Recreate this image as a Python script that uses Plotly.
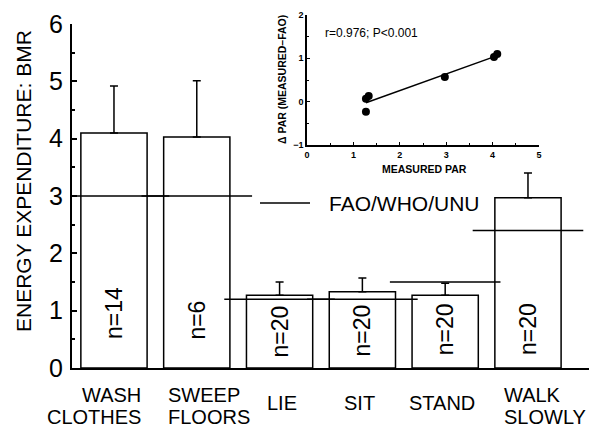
import numpy as np
import plotly.graph_objects as go

# ---- data ----
activities = ["WASH<br>CLOTHES", "SWEEP<br>FLOORS", "LIE", "SIT", "STAND", "WALK<br>SLOWLY"]
measured = [4.10, 4.03, 1.27, 1.33, 1.27, 2.97]
sd_upper = [0.82, 0.98, 0.23, 0.24, 0.21, 0.43]
fao = [3.0, 3.0, 1.20, 1.20, 1.50, 2.40]
n_labels = ["n=14", "n=6", "n=20", "n=20", "n=20", "n=20"]
y_ticks = [0, 1, 2, 3, 4, 5, 6]
inset_x_ticks = [0, 1, 2, 3, 4, 5]
inset_y_ticks = [-1, 0, 1, 2]
stat_text = "r=0.976; P&lt;0.001"
legend_text = "FAO/WHO/UNU"

# layout-only constants
n_label_y = [0.96, 0.84, 0.63, 0.66, 0.68, 0.68]
label_anchor = [("right", 29), ("left", -31), ("center", 2), ("center", -3), ("center", -3), ("left", -26)]

W, H = 589, 428
FONT = "Liberation Sans"
idx = list(range(len(activities)))

fig = go.Figure()

fig.add_trace(go.Bar(
    x=idx, y=measured, width=0.8,
    marker=dict(color="white", line=dict(color="black", width=1.5)),
    error_y=dict(type="data", array=sd_upper, arrayminus=[0] * len(measured),
                 symmetric=False, color="black", thickness=1.5, width=4),
    showlegend=False, xaxis="x", yaxis="y",
))
fig.add_trace(go.Scatter(
    x=idx, y=fao, mode="markers", name=legend_text,
    marker=dict(symbol="line-ew", size=79, color="black",
                line=dict(color="black", width=1.5)),
    showlegend=False, xaxis="x", yaxis="y",
))

# inset
mx = np.array(measured)
delta = mx - np.array(fao)
slope, icpt = np.polyfit(mx, delta, 1)
lx = np.array([mx.min(), mx.max()])
fig.add_trace(go.Scatter(
    x=lx, y=slope * lx + icpt, mode="lines",
    line=dict(color="black", width=1.5), showlegend=False, xaxis="x2", yaxis="y2",
))
fig.add_trace(go.Scatter(
    x=mx, y=delta, mode="markers",
    marker=dict(color="black", size=8), showlegend=False, xaxis="x2", yaxis="y2",
))

annotations = []
for i, lab in enumerate(activities):
    lines = lab.split("<br>")
    ys = [403] if len(lines) == 1 else [395, 417]
    anc, sh = label_anchor[i]
    for ln, yp in zip(lines, ys):
        annotations.append(dict(x=i, xref="x", y=1 - yp / H, yref="paper",
                                text=ln, showarrow=False, yanchor="middle",
                                xanchor=anc, xshift=sh,
                                font=dict(family=FONT, size=20, color="black")))
for i, t in enumerate(n_labels):
    annotations.append(dict(x=i, xref="x", y=n_label_y[i], yref="y", text=t,
                            textangle=-90, showarrow=False, xanchor="center", yanchor="middle",
                            font=dict(family=FONT, size=23, color="black")))
annotations.append(dict(x=23 / W, y=1 - 181 / H, xref="paper", yref="paper",
                        xanchor="center", yanchor="middle",
                        text="ENERGY EXPENDITURE: BMR", textangle=-90, showarrow=False,
                        font=dict(family=FONT, size=21, color="black")))
annotations.append(dict(x=323 / W, y=1 - 33 / H, xref="paper", yref="paper",
                        xanchor="left", yanchor="middle", text=stat_text, showarrow=False,
                        font=dict(family=FONT, size=12, color="black")))
annotations.append(dict(x=424 / W, y=1 - 169 / H, xref="paper", yref="paper",
                        xanchor="center", yanchor="middle",
                        text="MEASURED PAR", showarrow=False,
                        font=dict(family=FONT, size=10.5, color="black", weight="bold")))
annotations.append(dict(x=282 / W, y=1 - 80 / H, xref="paper", yref="paper",
                        xanchor="center", yanchor="middle",
                        text="Δ PAR (MEASURED–FAO)", textangle=-90, showarrow=False,
                        font=dict(family=FONT, size=10.5, color="black", weight="bold")))
# legend key
annotations.append(dict(x=327 / W, y=1 - 203 / H, xref="paper", yref="paper",
                        xanchor="left", yanchor="middle", text=legend_text, showarrow=False,
                        font=dict(family=FONT, size=21, color="black")))
shapes = [dict(type="line", xref="paper", yref="paper", x0=260 / W, x1=310 / W,
               y0=1 - 203 / H, y1=1 - 203 / H, line=dict(color="black", width=1.5))]

fig.update_layout(
    width=W, height=H,
    margin=dict(l=0, r=0, t=0, b=0, autoexpand=False),
    paper_bgcolor="white", plot_bgcolor="white",
    font=dict(family=FONT, color="black"),
    showlegend=False,
    xaxis=dict(domain=[72 / W, 1.0], range=[-0.507, 5.737], showline=True,
               linecolor="black", linewidth=2, showticklabels=False, ticks="",
               showgrid=False, zeroline=False, fixedrange=True),
    yaxis=dict(domain=[60 / H, 404 / H], range=[0, 6], showline=True,
               linecolor="black", linewidth=2, tickvals=y_ticks, ticks="inside",
               ticklen=5, tickwidth=1.5, tickcolor="black",
               minor=dict(dtick=0.5, ticks="inside", ticklen=3, tickwidth=1.5, tickcolor="black"),
               tickfont=dict(family=FONT, size=25, color="black"), ticklabelstandoff=2,
               showgrid=False, zeroline=False),
    xaxis2=dict(domain=[307 / W, 539 / W], range=[0, 5], anchor="y2", showline=True,
                linecolor="black", linewidth=1.5, tickvals=inset_x_ticks, ticks="inside",
                ticklen=3, tickwidth=1.2, tickcolor="black",
                minor=dict(dtick=0.5, ticks="inside", ticklen=2, tickwidth=1, tickcolor="black"),
                tickfont=dict(family=FONT, size=9, color="black", weight="bold"),
                showgrid=False, zeroline=False),
    yaxis2=dict(domain=[1 - 145 / H, 1 - 15 / H], range=[-1, 2], anchor="x2", showline=True,
                linecolor="black", linewidth=1.5, tickvals=inset_y_ticks, ticks="inside",
                ticklen=3, tickwidth=1.2, tickcolor="black",
                minor=dict(dtick=0.5, ticks="inside", ticklen=2, tickwidth=1, tickcolor="black"),
                tickfont=dict(family=FONT, size=9, color="black", weight="bold"),
                showgrid=False, zeroline=False),
    annotations=annotations,
    shapes=shapes,
)

fig.write_html("out.html", config={"displayModeBar": False},
               post_script="document.body.style.margin='0';document.body.style.overflow='hidden';")
